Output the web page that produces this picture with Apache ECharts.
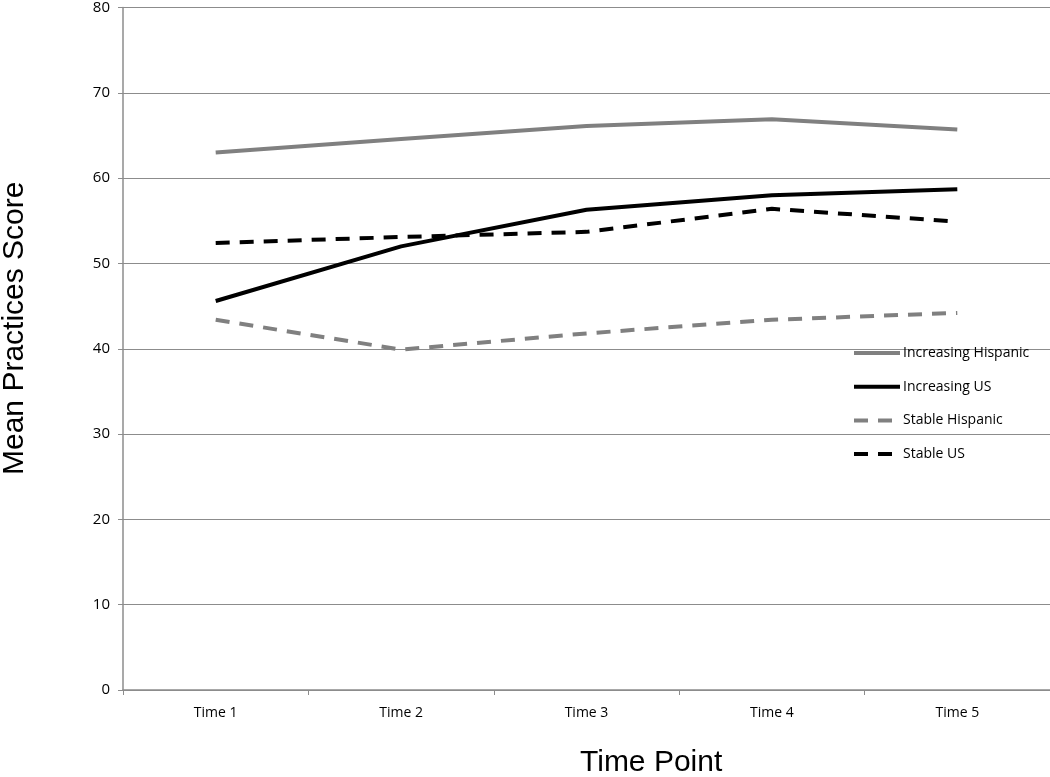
<!DOCTYPE html>
<html>
<head>
<meta charset="utf-8">
<script src="https://cdn.jsdelivr.net/npm/echarts@6/dist/echarts.min.js"></script>
<style>
  html, body { margin: 0; padding: 0; background: #fff; }
  #mychart { width: 1050px; height: 777px; }
</style>
</head>
<body>
<div id="mychart"></div>
<script>
// categories on the x axis
var timePoints = ["Time 1", "Time 2", "Time 3", "Time 4", "Time 5"];
// y axis ticks: 0..80 step 10
var yMin = 0, yMax = 80, yStep = 10;

// mean practices score per group
var increasingHispanic = [63.0, 64.6, 66.1, 66.9, 65.7];
var increasingUS = [45.6, 52.0, 56.3, 58.0, 58.7];
var stableHispanic = [43.4, 39.9, 41.8, 43.4, 44.2];
var stableUS = [52.4, 53.1, 53.7, 56.4, 54.9];

var mychart = echarts.init(document.getElementById("mychart"));

function lineSeries(name, data, color, dashed) {
  return {
    name: name,
    type: "line",
    data: data,
    symbol: "none",
    silent: true,
    lineStyle: {
      color: color,
      width: 4,
      type: dashed ? [14, 10] : "solid",
      cap: "butt"
    },
    itemStyle: { color: color }
  };
}

var options = {
  animation: false,
  backgroundColor: "#fff",
  grid: { left: 123, right: 0, top: 4, bottom: 87 },
  legend: {
    orient: "vertical",
    left: 847,
    top: 341,
    itemWidth: 46,
    itemHeight: 14,
    itemGap: 19.7,
    itemStyle: { opacity: 0 },
    lineStyle: { width: 4 },
    textStyle: { fontFamily: "Open Sans", fontSize: 14, color: "#000", padding: [0, 0, 0, -2] },
    data: ["Increasing Hispanic", "Increasing US", "Stable Hispanic", "Stable US"]
  },
  xAxis: {
    type: "category",
    data: timePoints,
    boundaryGap: true,
    axisLine: { lineStyle: { color: "#8c8c8c", width: 1.5 } },
    axisTick: { show: true, length: 5, lineStyle: { color: "#8c8c8c" } },
    axisLabel: { margin: 16, fontFamily: "Open Sans", fontSize: 14, color: "#000" },
    splitLine: { show: false }
  },
  yAxis: {
    type: "value",
    min: yMin,
    max: yMax,
    interval: yStep,
    axisLine: { show: true, lineStyle: { color: "#8c8c8c", width: 1.5 } },
    axisTick: { show: true, length: 5, lineStyle: { color: "#8c8c8c" } },
    axisLabel: { margin: 13, fontFamily: "Open Sans", fontSize: 15, color: "#000" },
    splitLine: { lineStyle: { color: "#8c8c8c", width: 1.2 } }
  },
  graphic: [
    {
      type: "text",
      left: 580,
      top: 748,
      style: { text: "Time Point", font: "30px 'Liberation Sans'", fill: "#000" }
    },
    {
      type: "text",
      x: 0,
      y: 475,
      rotation: Math.PI / 2,
      style: { text: "Mean Practices Score", font: "30px 'Liberation Sans'", fill: "#000" }
    }
  ],
  series: [
    lineSeries("Increasing Hispanic", increasingHispanic, "#808080", false),
    lineSeries("Increasing US", increasingUS, "#000000", false),
    lineSeries("Stable Hispanic", stableHispanic, "#808080", true),
    lineSeries("Stable US", stableUS, "#000000", true)
  ]
};

mychart.setOption(options);
</script>
</body>
</html>
